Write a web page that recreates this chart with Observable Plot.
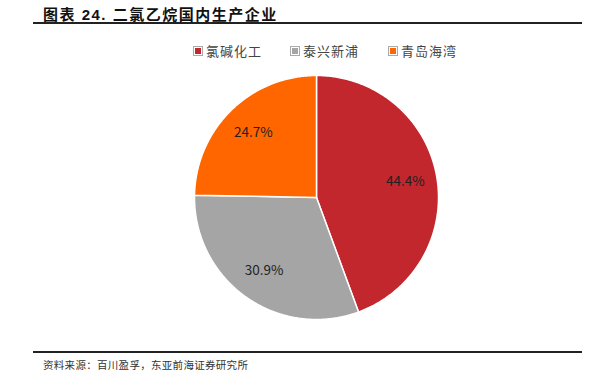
<!DOCTYPE html>
<html><head><meta charset="utf-8">
<script src="https://cdn.jsdelivr.net/npm/d3@7"></script>
<script src="https://cdn.jsdelivr.net/npm/@observablehq/plot@0.6"></script>
<style>
body{margin:0;background:#fff;}
#wrap{position:relative;width:605px;height:378px;overflow:hidden;font-family:"Noto Sans CJK SC",sans-serif;}
#title{position:absolute;left:43px;top:3px;font-family:"Liberation Sans","Noto Sans CJK SC",sans-serif;font-weight:bold;font-size:15px;letter-spacing:1.5px;color:#111;white-space:nowrap;}
.rule{position:absolute;left:33px;width:549px;height:2px;background:#222;}
#legend{position:absolute;top:41px;left:0;width:605px;height:20px;}
.li{position:absolute;top:0;display:flex;align-items:center;font-size:13px;letter-spacing:1px;color:#444;white-space:nowrap;}
.sw{width:6px;height:6px;border:1px solid #aaa;padding:1px;background-clip:content-box;margin-right:3px;}
#caption{position:absolute;left:43px;top:357px;font-size:10.5px;letter-spacing:0.3px;color:#333;white-space:nowrap;}
#chart{position:absolute;left:0;top:67px;}
</style></head>
<body>
<div id="wrap">
  <div id="title">图表 24. 二氯乙烷国内生产企业</div>
  <div class="rule" style="top:22px"></div>
  <div id="legend"></div>
  <div id="chart"></div>
  <div class="rule" style="top:351px"></div>
  <div id="caption">资料来源：百川盈孚，东亚前海证券研究所</div>
</div>
<script>
const names = ["氯碱化工", "泰兴新浦", "青岛海湾"];
const shares = [44.4, 30.9, 24.7];
const labels = ["44.4%", "30.9%", "24.7%"];
const colors = ["#C1272D", "#A5A5A5", "#FF6600"];
const legendX = [193, 290, 388];

const arcs = d3.pie().sort(null).value(d => d)(shares);
const slicePts = [];
const labelPts = [];
arcs.forEach((a, i) => {
  slicePts.push({name: names[i], x: 0, y: 0});
  const n = Math.max(2, Math.ceil((a.endAngle - a.startAngle) / 0.01));
  for (let k = 0; k <= n; k++) {
    const t = a.startAngle + (a.endAngle - a.startAngle) * k / n;
    slicePts.push({name: names[i], x: Math.sin(t), y: Math.cos(t)});
  }
  slicePts.push({name: names[i], x: 0, y: 0});
  const m = (a.startAngle + a.endAngle) / 2;
  labelPts.push({label: labels[i], x: 0.74 * Math.sin(m), y: 0.74 * Math.cos(m)});
});

const plot = Plot.plot({
  width: 605, height: 260,
  marginLeft: 194, marginRight: 167, marginTop: 8, marginBottom: 8,
  x: {domain: [-1, 1], axis: null},
  y: {domain: [-1, 1], axis: null},
  color: {domain: names, range: colors},
  marks: [
    Plot.line(slicePts, {x: "x", y: "y", z: "name", fill: "name", stroke: "#fff", strokeWidth: 1.5, strokeLinejoin: "round"}),
    Plot.text(labelPts, {x: "x", y: "y", text: "label", fontSize: 13.5, fill: "#222", fontFamily: "Noto Sans CJK SC, sans-serif"})
  ]
});
document.getElementById("chart").appendChild(plot);

const lg = document.getElementById("legend");
names.forEach((n, i) => {
  const d = document.createElement("div");
  d.className = "li";
  d.style.left = legendX[i] + "px";
  d.innerHTML = `<span class="sw" style="background-color:${colors[i]}"></span><span>${n}</span>`;
  lg.appendChild(d);
});
</script>
</body></html>
